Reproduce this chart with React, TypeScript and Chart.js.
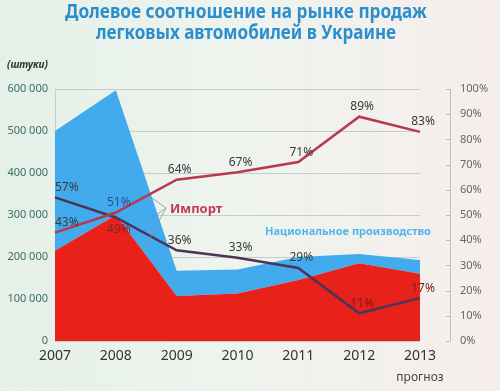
import React, { useEffect, useRef } from 'react';
import { Chart, registerables } from 'chart.js';

Chart.register(...registerables);

const years = ['2007', '2008', '2009', '2010', '2011', '2012', '2013'];
const importUnits = [215000, 300000, 107000, 113000, 145000, 185000, 160000];
const nationalUnits = [285000, 297000, 60000, 57000, 55000, 22000, 33000];
const importShare = [43, 51, 64, 67, 71, 89, 83];
const nationalShare = [57, 49, 36, 33, 29, 11, 17];
const titleLines = ['Долевое соотношение на рынке продаж', 'легковых автомобилей в Украине'];
const unitsLabel = '(штуки)';
const forecastLabel = 'прогноз';
const importName = 'Импорт';
const nationalName = 'Национальное производство';

const FONT = '"Noto Sans", "Open Sans", "DejaVu Sans", sans-serif';

const overlay = {
  id: 'overlay',
  afterDatasetsDraw(chart: any) {
    const ctx = chart.ctx;
    const area = chart.chartArea;
    const y1 = chart.scales.y1;
    const x = chart.scales.x;
    ctx.save();

    // right axis line with tick marks
    const ax = area.right + 30;
    ctx.strokeStyle = '#b9bfbf';
    ctx.lineWidth = 1;
    ctx.beginPath();
    ctx.moveTo(ax + 0.5, y1.getPixelForValue(100));
    ctx.lineTo(ax + 0.5, y1.getPixelForValue(0));
    for (let v = 0; v <= 100; v += 10) {
      const yy = Math.round(y1.getPixelForValue(v)) + 0.5;
      ctx.moveTo(ax - 4, yy);
      ctx.lineTo(ax + 0.5, yy);
    }
    ctx.stroke();

    // percent labels
    const drawLabels = (dsIndex: number, values: number[], colors: (i: number) => string, below: (i: number) => boolean) => {
      const meta = chart.getDatasetMeta(dsIndex);
      ctx.font = `12px ${FONT}`;
      ctx.textBaseline = 'middle';
      meta.data.forEach((pt: any, i: number) => {
        ctx.fillStyle = colors(i);
        ctx.textAlign = i === 0 ? 'left' : 'center';
        const yy = below(i) ? pt.y + 12 : pt.y - 10;
        ctx.fillText(values[i] + '%', pt.x + (i === 0 ? 0 : 3), yy);
      });
    };
    drawLabels(2, importShare, (i) => (i === 1 ? '#2b4f8a' : '#3a3a3a'), () => false);
    drawLabels(3, nationalShare, (i) => (i === 1 ? '#8a2020' : i >= 5 ? '#7a1a1a' : '#3a3a3a'), (i) => i === 1);

    // annotations
    ctx.strokeStyle = '#8a8f99';
    ctx.lineWidth = 0.8;
    ctx.beginPath();
    ctx.moveTo(152, 198);
    ctx.lineTo(166, 208);
    ctx.lineTo(152, 218);
    ctx.moveTo(166, 208);
    ctx.lineTo(143, 250);
    ctx.stroke();
    ctx.font = `bold 13px ${FONT}`;
    ctx.fillStyle = '#c23d55';
    ctx.textAlign = 'left';
    ctx.textBaseline = 'middle';
    ctx.fillText(importName, 170, 209);

    ctx.font = `bold 11px ${FONT}`;
    ctx.fillStyle = '#4fb6ee';
    ctx.fillText(nationalName, 265, 232);

    // title
    ctx.font = `bold 19px ${FONT}`;
    ctx.fillStyle = '#2a8fcc';
    ctx.textAlign = 'center';
    ctx.fillText(titleLines[0], 246, 13, 362);
    ctx.fillText(titleLines[1], 246, 34, 300);

    // units
    ctx.font = `italic bold 10px ${FONT}`;
    ctx.fillStyle = '#333';
    ctx.textAlign = 'left';
    ctx.fillText(unitsLabel, 7, 65);

    // forecast label
    ctx.font = `12px ${FONT}`;
    ctx.fillStyle = '#444';
    ctx.textAlign = 'center';
    ctx.fillText(forecastLabel, x.getPixelForValue(6), 378);

    ctx.restore();
  },
};

export default function App() {
  const ref = useRef<HTMLCanvasElement>(null);
  useEffect(() => {
    if (!ref.current) return;
    const chart = new Chart(ref.current, {
      type: 'line',
      data: {
        labels: years,
        datasets: [
          {
            label: importName,
            data: importUnits,
            yAxisID: 'y',
            fill: 'origin',
            backgroundColor: '#e8221b',
            borderWidth: 0,
            pointRadius: 0,
            tension: 0,
            order: 2,
          },
          {
            label: nationalName,
            data: nationalUnits,
            yAxisID: 'y',
            fill: '-1',
            backgroundColor: '#42abee',
            borderWidth: 0,
            pointRadius: 0,
            tension: 0,
            order: 3,
          },
          {
            label: 'Импорт, %',
            data: importShare,
            yAxisID: 'y1',
            fill: false,
            borderColor: '#b8384c',
            borderWidth: 2.5,
            pointRadius: 0,
            tension: 0,
            order: 0,
          },
          {
            label: 'Национальное производство, %',
            data: nationalShare,
            yAxisID: 'y1',
            fill: false,
            borderColor: '#4a3558',
            borderWidth: 2.5,
            pointRadius: 0,
            tension: 0,
            order: 1,
          },
        ],
      },
      options: {
        responsive: false,
        animation: false,
        layout: { padding: { top: 89, left: 0, right: 0, bottom: 0 } },
        plugins: { legend: { display: false }, tooltip: { enabled: false } },
        scales: {
          x: {
            offset: false,
            grid: { display: false, drawTicks: false },
            border: { display: false },
            ticks: { color: '#333', font: { size: 14, family: FONT }, padding: 7 },
            afterFit: (s: any) => { s.height = 50; },
          },
          y: {
            position: 'left',
            stacked: true,
            min: 0,
            max: 600000,
            grid: { color: '#c6cdcd', drawTicks: false },
            border: { display: true, color: '#c6cdcd' },
            ticks: {
              stepSize: 100000,
              color: '#3e6b66',
              font: { size: 11, family: FONT },
              padding: 7,
              callback: (v: any) => (v === 0 ? '0' : `${v / 1000} 000`),
            },
            afterFit: (s: any) => { s.width = 55; },
          },
          y1: {
            position: 'right',
            min: 0,
            max: 100,
            grid: { display: false, drawTicks: false },
            border: { display: false },
            ticks: {
              stepSize: 10,
              color: '#666',
              font: { size: 11, family: FONT },
              padding: 40,
              callback: (v: any) => `${v}%`,
            },
            afterFit: (s: any) => { s.width = 80; },
          },
        },
      },
      plugins: [overlay],
    });
    return () => chart.destroy();
  }, []);
  return (
    <div
      style={{
        position: 'fixed',
        left: 0,
        top: 0,
        width: 500,
        height: 391,
        background: 'linear-gradient(to right, #e4f0e8 0%, #eef3ee 45%, #f6eeec 100%)',
      }}
    >
      <canvas ref={ref} width={500} height={391} />
    </div>
  );
}
